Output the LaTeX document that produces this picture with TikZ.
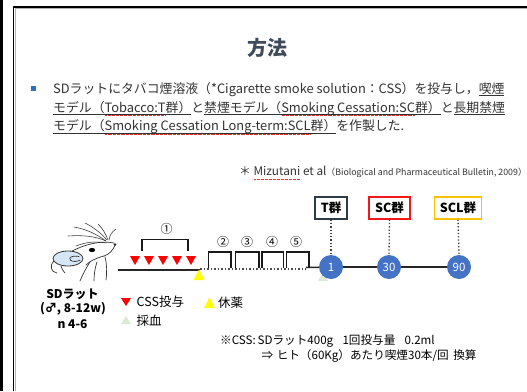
\documentclass[tikz,border=0pt]{standalone}
\usepackage{fontspec}
\setmainfont{Noto Sans CJK JP}
\usetikzlibrary{calc}
\definecolor{titlecol}{HTML}{404B5A}
\definecolor{bodytext}{HTML}{333333}
\definecolor{bulletblue}{HTML}{2E6FC6}
\definecolor{spellred}{HTML}{E03030}
\definecolor{dotblue}{HTML}{4472C4}
\definecolor{tgroup}{HTML}{2F3A48}
\definecolor{scgroup}{HTML}{F01818}
\definecolor{sclgroup}{HTML}{FFC000}
\definecolor{earblue}{HTML}{D6E6F5}
\definecolor{paleGreen}{HTML}{DCEBD8}
\definecolor{cssred}{HTML}{FF0000}
\definecolor{restyellow}{HTML}{FFFF00}
% underline at a fixed depth
\newcommand{\ulseg}[1]{\setbox0\hbox{#1}\rlap{\rule[-2.8pt]{\wd0}{0.55pt}}\box0\relax}
% dotted red spelling mark
\newcommand{\sqseg}[1]{\setbox0\hbox{#1}\rlap{\raisebox{-3.9pt}{\color{spellred}\hbox to\wd0{\xleaders\hbox to 1.3pt{\hss\rule{0.65pt}{0.6pt}\hss}\hfill}}}\box0\relax}
\begin{document}
\begin{tikzpicture}[x=1pt,y=-1pt,
  bodyline/.style={anchor=base west,inner sep=0pt,text=bodytext,font=\fontsize{12.85}{14}\selectfont},
  groupbox/.style={draw,line width=1.2pt,minimum height=22pt,inner sep=0pt,font=\bfseries\fontsize{12.5}{14}\selectfont,text=black},
  daydot/.style={circle,fill=dotblue,minimum size=24pt,inner sep=0pt,text=white,font=\fontsize{11.5}{13}\selectfont},
  timeline/.style={line width=1.5pt,draw=black!85},
  bracketline/.style={line width=1.7pt,draw=black!90},
  vdots/.style={dotted,line width=1.3pt,draw=black!75},
  numlabel/.style={inner sep=0pt,font=\fontsize{12}{13}\selectfont},
  legendtext/.style={anchor=west,inner sep=0pt,font=\fontsize{12.5}{14}\selectfont},
  ratlabel/.style={inner sep=0pt,font=\bfseries\fontsize{12}{14}\selectfont},
  ratline/.style={line width=0.7pt,draw=black!80,line cap=round},
  footline/.style={anchor=base west,inner sep=0pt,font=\fontsize{11.6}{14}\selectfont},
]
\useasboundingbox (0,0) rectangle (527,391);
\fill[white] (0,0) rectangle (527,391);

% slide frame
\fill[black] (0,0) rectangle (3,391);
\draw[gray!60,line width=0.8pt] (15,391) -- (15,8.2) -- (527,8.2);
\draw[black,line width=1.5pt] (13.5,391) -- (13.5,6.8) -- (527,6.8);

% title
\node[font=\bfseries\fontsize{20}{22}\selectfont,text=titlecol] (title) at (267,48) {方法};

% bullet text
\fill[bulletblue] (30.5,85.5) rectangle (35.5,90.5);
\node[bodyline] (l1) at (53,93) {SDラットにタバコ煙溶液（*Cigarette smoke solution：CSS）を投与し，\ulseg{喫煙}};
\node[bodyline] (l2) at (53,112) {\ulseg{モデル（\sqseg{Tobacco:T}群）}と\ulseg{禁煙モデル（\sqseg{Smoking Cessation:SC}群）}と\ulseg{長期禁煙}};
\node[bodyline] (l3) at (53,130.5) {\ulseg{モデル（\sqseg{Smoking Cessation Long-term:SCL}群）}を作製した.};

% reference
\node[anchor=base west,inner sep=0pt,text=bodytext] (ref) at (239,175.5)
  {\fontsize{11.8}{13}\selectfont ＊ \sqseg{Mizutani} et al\fontsize{8.8}{10}\selectfont（Biological and Pharmaceutical Bulletin, 2009）};

% group boxes
\node[groupbox,draw=tgroup,minimum width=32pt] (gT) at (331,208) {T群};
\node[groupbox,draw=scgroup,minimum width=41pt] (gSC) at (389.5,208) {SC群};
\node[groupbox,draw=sclgroup,minimum width=47pt] (gSCL) at (458,208) {SCL群};

% blood sampling mark under day 1
\fill[paleGreen] (323,272) -- (328,281) -- (318,281) -- cycle;

% timeline
\coordinate (t0) at (118,270);
\coordinate (t1) at (200,270);
\coordinate (d0) at (200,269);
\coordinate (d1) at (306,269);
\coordinate (s0) at (306,267.5);
\node[daydot] (c1) at (331,267) {1};
\node[daydot] (c30) at (389,267) {30};
\node[daydot] (c90) at (459,267) {90};
\draw[timeline] (t0) -- (t1);
\draw[dotted,line width=1.5pt,draw=black!70] (d0) -- (d1);
\draw[timeline] (s0) -- (c1);
\draw[timeline] (c1) -- (c30);
\draw[timeline] (c30) -- (c90);
\draw[vdots] (gT.south) -- (c1.north);
\draw[vdots] (gSC.south) -- (c30.north);
\draw[vdots] (gSCL.south) -- (c90.north);

% exposure week 1
\draw[bracketline] (142,251) |- (188,239.5) -- (188,251);
\node[numlabel] (n1) at (166.5,229) {①};
\foreach \x in {135,149,163,177,191}
  \fill[cssred] (\x-5,256) -- (\x+5,256) -- (\x,265) -- cycle;

% withdrawal mark
\fill[restyellow] (199,269.5) -- (204.5,280) -- (193.5,280) -- cycle;

% weeks 2-5
\draw[bracketline] (208.5,268) |- (231,252) -- (231,268);
\draw[bracketline] (235.5,268) |- (259,252) -- (259,268);
\draw[bracketline] (262,268) |- (283.5,252) -- (283.5,268);
\draw[bracketline] (286.5,268) |- (309,252) -- (309,268);
\node[numlabel] (n2) at (223,241.5) {②};
\node[numlabel] (n3) at (247,241.5) {③};
\node[numlabel] (n4) at (272,241.5) {④};
\node[numlabel] (n5) at (296,241.5) {⑤};

% legend
\fill[cssred] (121,298) -- (131,298) -- (126,306) -- cycle;
\node[legendtext] (lg1) at (136.5,302) {CSS投与};
\fill[restyellow] (209.5,297.5) -- (215,308) -- (204,308) -- cycle;
\node[legendtext] (lg2) at (218,302.5) {休薬};
\fill[paleGreen] (126,316) -- (131,324) -- (121,324) -- cycle;
\node[legendtext] (lg3) at (136.5,320.5) {採血};

% rat label
\node[ratlabel] (r1) at (72.5,294) {SDラット};
\node[ratlabel] (r2) at (73,309) {(♂, 8-12w)};
\node[ratlabel] (r3) at (72.5,324) {n 4-6};

% footnote
\node[footline] (fn1) at (220,344.5) {※CSS:\,SDラット400g\hspace{0.8em}1回投与量\hspace{0.8em}0.2ml};
\node[footline] (fn2) at (261.5,359.5) {⇒\hspace{0.3em}ヒト（60Kg）あたり喫煙30本/回\hspace{0.4em}換算};

% rat head sketch
\begin{scope}
  % whiskers
  \draw[ratline,line width=0.55pt] (106,241) .. controls (95,233) and (85,229) .. (74,227);
  \draw[ratline,line width=0.55pt] (106,241) .. controls (95,236) and (82,235) .. (68,236);
  \draw[ratline,line width=0.55pt] (107,240) .. controls (100,232) and (93,227) .. (85,223);
  \draw[ratline,line width=0.55pt] (108,240) .. controls (105,232) and (102,228) .. (98,224);
  \draw[ratline,line width=0.55pt] (109,240) .. controls (110,234) and (112,232) .. (116,229);
  \draw[ratline,line width=0.55pt] (106,243) .. controls (96,241) and (86,242) .. (76,246);
  % forehead and snout
  \draw[ratline] (72,251) .. controls (84,245) and (100,240) .. (114,243);
  \fill[black!85] (115,244.5) circle (1.3);
  \draw[ratline] (115,245) .. controls (113,250) and (110,254) .. (104,256);
  \draw[ratline] (104,256) .. controls (96,258) and (90,261) .. (86,265);
  % neck
  \draw[ratline] (90,262) .. controls (86,268) and (83,274) .. (80,281);
  \draw[ratline] (97,262) .. controls (95,268) and (94,274) .. (94,281);
  \draw[ratline] (105,257) .. controls (107,265) and (107,272) .. (106,280);
  % eye
  \fill[black] (92,250) ellipse [x radius=3.2, y radius=2.1];
  % ear
  \draw[line width=0.8pt,fill=earblue,draw=black!80] (68,258.5) ellipse [x radius=15, y radius=7.5];
  \draw[ratline] (79,256.5) .. controls (69,254.5) and (66,261) .. (75,261.5) -- (80,260.5);
  % cheek
  \draw[ratline] (54,261) .. controls (49,266) and (51,272) .. (57,273);
  \draw[ratline] (61,266) .. controls (62,269) and (63,271) .. (65,273);
\end{scope}
\end{tikzpicture}
\end{document}
